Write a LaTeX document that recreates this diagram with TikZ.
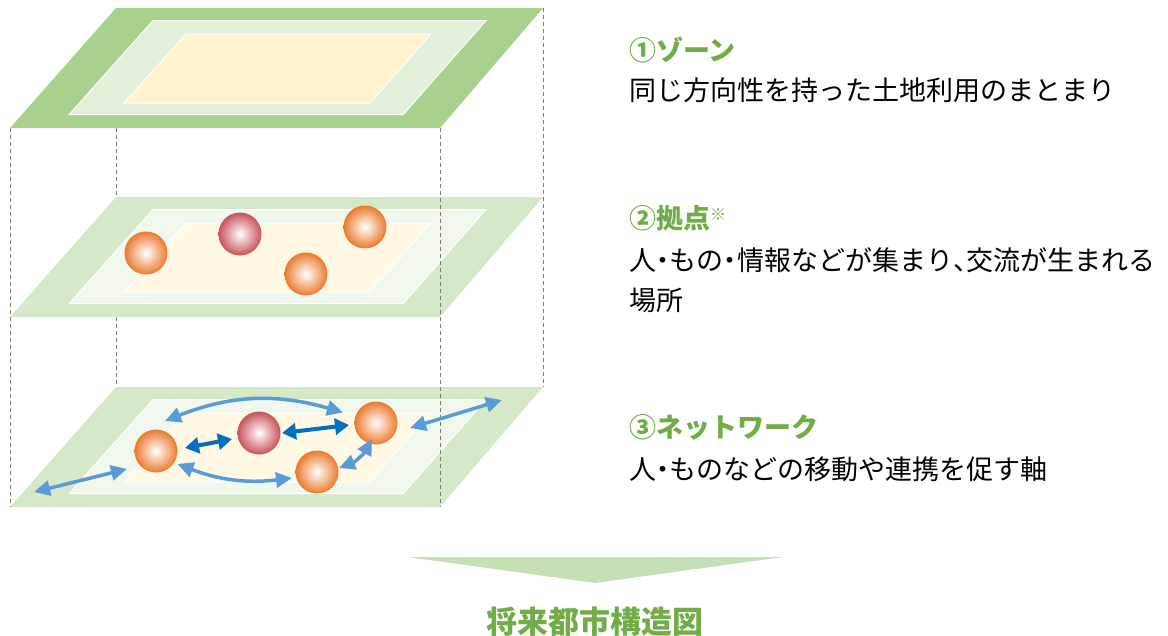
\documentclass[tikz,border=0pt]{standalone}
\usepackage{fontspec}
\setmainfont{Noto Sans CJK JP}
\usetikzlibrary{arrows.meta}

\definecolor{zoneouter}{HTML}{A9D18E}
\definecolor{zoneband}{HTML}{E2EFDA}
\definecolor{zonecore}{HTML}{FFF2CC}
\definecolor{paleouter}{HTML}{D5E8C8}
\definecolor{paleband}{HTML}{F0F7EC}
\definecolor{palecore}{HTML}{FEF8E5}
\definecolor{guidegray}{HTML}{7A7A7A}
\definecolor{ballorange}{HTML}{EB7A2E}
\definecolor{ballred}{HTML}{C9525A}
\definecolor{flowblue}{HTML}{5B9BD5}
\definecolor{linkblue}{HTML}{0070C0}
\definecolor{headgreen}{HTML}{70AD47}
\definecolor{pointer}{HTML}{C5E0B4}

% one stacked plane: #1 top edge (page y), #2 outer, #3 band, #4 core
\newcommand{\planelayer}[4]{%
  \fill[#2] (116,-#1) -- (543,-#1) -- (440,-#1-120) -- (10,-#1-120) -- cycle;
  \filldraw[fill=#3, draw=white, line width=1pt]
    (153,-#1-12.6) -- (486,-#1-12.6) -- (403,-#1-106.7) -- (69,-#1-106.7) -- cycle;
  \filldraw[fill=#4, draw=white, line width=1pt]
    (186,-#1-26) -- (431,-#1-26) -- (370,-#1-95) -- (124,-#1-95) -- cycle;
}
\newcommand{\hdot}{\makebox[0.5em]{・}}
\newcommand{\hcomma}{\makebox[0.5em][l]{、}}

\begin{document}
\begin{tikzpicture}[x=1pt,y=1pt,
  guide/.style={draw=guidegray, line width=1pt, dash pattern=on 4pt off 3pt},
  orangeball/.style={circle, minimum size=43pt, inner sep=0pt, shade,
    inner color=white, outer color=ballorange},
  redball/.style={circle, minimum size=43pt, inner sep=0pt, shade,
    inner color=white, outer color=ballred},
  flow/.style={draw=flowblue, line width=3.5pt,
    {Triangle[length=16pt,width=15pt]}-{Triangle[length=16pt,width=15pt]}},
  link/.style={draw=linkblue, line width=4pt,
    {Triangle[length=14pt,width=16pt]}-{Triangle[length=14pt,width=16pt]}},
  heading/.style={anchor=base west, inner sep=0pt, text=headgreen,
    font=\fontsize{27}{32}\selectfont\bfseries},
  body/.style={anchor=base west, inner sep=0pt, text=black,
    font=\fontsize{27}{32}\selectfont},
  caption/.style={anchor=base, inner sep=0pt, text=headgreen,
    font=\fontsize{31}{36}\selectfont\bfseries}
]
\useasboundingbox (0,0) rectangle (1168,-635);

% hidden back-left guide
\draw[guide] (116,-128) -- (116,-387);

% the three planes
\planelayer{8}{zoneouter}{zoneband}{zonecore}
\planelayer{197}{paleouter}{paleband}{palecore}
\planelayer{387}{paleouter}{paleband}{palecore}

% visible guides
\draw[guide] (10,-128) -- (10,-507);
\draw[guide] (440,-128) -- (440,-507);
\draw[guide] (543,-8) -- (543,-387);

% hubs on the middle plane
\node[orangeball] (m1) at (146,-253) {};
\node[redball]    (m2) at (240,-234) {};
\node[orangeball] (m3) at (365,-227) {};
\node[orangeball] (m4) at (306,-274) {};

% hubs on the bottom plane
\node[orangeball] (b1) at (156,-451) {};
\node[redball]    (br) at (259,-433) {};
\node[orangeball] (b3) at (376,-423) {};
\node[orangeball] (b4) at (317,-472) {};

% network links
\coordinate (outL) at (34,-492);
\coordinate (outR) at (502,-400);
\draw[flow] (outL) -- ([shift={(-29,-18)}]b1.center);
\draw[flow] ([shift={(34,-5)}]b3.center) -- (outR);
\draw[flow] ([shift={(9,30)}]b1.center) to[bend left=19] ([shift={(-33,10.5)}]b3.center);
\draw[flow] ([shift={(21.5,-13)}]b1.center) to[bend right=14] ([shift={(-25,-6)}]b4.center);
\draw[flow] ([shift={(-4,-16)}]b3.center) to[bend left=20] ([shift={(22,4)}]b4.center);
\draw[link] ([shift={(29,3)}]b1.center) -- ([shift={(-27,-6)}]br.center);
\draw[link] ([shift={(23,0)}]br.center) -- ([shift={(-27,-2)}]b3.center);

% legend texts
\node[heading] (h1) at (629,-60) {①ゾーン};
\node[body] (d1) at (629,-100) {同じ方向性を持った土地利用のまとまり};
\node[heading] (h2) at (629,-228) {②拠点{\fontsize{16}{16}\mdseries\selectfont\raisebox{8pt}{※}}};
\node[body] (d2) at (629,-270) {人\hdot もの\hdot 情報などが集まり\hcomma 交流が生まれる};
\node[body] (d2b) at (629,-310) {場所};
\node[heading] (h3) at (629,-437) {③ネットワーク};
\node[body] (d3) at (629,-479) {人\hdot ものなどの移動や連携を促す軸};

% summary pointer and caption
\fill[pointer] (408,-557) -- (783,-557) -- (595,-583) -- cycle;
\node[caption] (ttl) at (595,-633) {将来都市構造図};
\end{tikzpicture}
\end{document}
